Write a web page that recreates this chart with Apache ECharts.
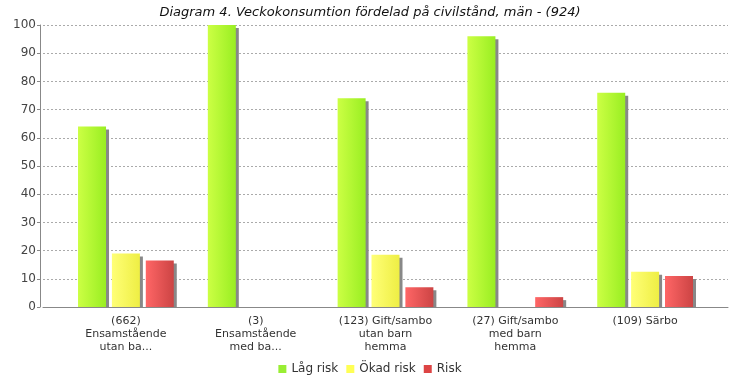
<!DOCTYPE html>
<html><head><meta charset="utf-8">
<script src="https://cdn.jsdelivr.net/npm/echarts@6/dist/echarts.min.js"></script>
<style>html,body{margin:0;padding:0;background:#fff}#c{width:740px;height:380px}</style>
</head><body><div id="c"></div>
<script>
const title = "Diagram 4. Veckokonsumtion fördelad på civilstånd, män - (924)";
const categories = ["(662)\nEnsamstående\nutan ba...", "(3)\nEnsamstående\nmed ba...", "(123) Gift/sambo\nutan barn\nhemma", "(27) Gift/sambo\nmed barn\nhemma", "(109) Särbo"];
const seriesNames = ["Låg risk", "Ökad risk", "Risk"];
const lowRisk = [64, 100, 74, 96, 76];
const increasedRisk = [19, 0, 18.5, 0, 12.5];
const risk = [16.5, 0, 7, 3.5, 11];
const yTicks = [0, 10, 20, 30, 40, 50, 60, 70, 80, 90, 100];

const font = 'DejaVu Sans';
function grad(a, b) {
  return new echarts.graphic.LinearGradient(0, 0, 1, 0, [{offset: 0, color: a}, {offset: 1, color: b}]);
}
const colors = [grad('#ccff44', '#99ee22'), grad('#ffff77', '#eeee44'), grad('#ff6666', '#cc4444')];
const legendColors = ['#99ee33', '#ffff55', '#dd4444'];
const vals = [lowRisk, increasedRisk, risk];

const chart = echarts.init(document.getElementById('c'), null, {renderer: 'canvas'});
chart.setOption({
  animation: false,
  title: {text: title, left: 'center', top: 1, textStyle: {fontFamily: font, fontSize: 13, fontStyle: 'italic', fontWeight: 'normal', color: '#111'}},
  legend: {top: 358, left: 'center', itemWidth: 8, itemHeight: 8, itemGap: 8, icon: 'rect',
    textStyle: {fontFamily: font, fontSize: 12, color: '#333'},
    data: seriesNames.map((n, i) => ({name: n, itemStyle: {color: legendColors[i]}}))},
  grid: [
    {left: 43, right: 12, top: 25, bottom: 73},
    {left: 61, right: 30, top: 25, bottom: 73}
  ],
  xAxis: [
    {gridIndex: 0, type: 'category', data: categories, offset: 4,
      axisLine: {lineStyle: {color: '#888'}}, axisTick: {show: false}, axisLabel: {show: false}},
    {gridIndex: 1, type: 'category', data: categories, offset: 4,
      axisLine: {show: false}, axisTick: {show: true, alignWithLabel: true, length: 3, lineStyle: {color: '#888'}},
      axisLabel: {fontFamily: font, fontSize: 11, color: '#333', lineHeight: 13, margin: 4, interval: 0}}
  ],
  yAxis: [
    {gridIndex: 0, type: 'value', min: yTicks[0], max: yTicks[yTicks.length - 1], interval: 10, offset: 3,
      axisLine: {show: true, lineStyle: {color: '#888'}}, axisTick: {show: true, length: 3, lineStyle: {color: '#888'}},
      axisLabel: {fontFamily: font, fontSize: 12, color: '#444', margin: 4},
      splitLine: {lineStyle: {color: '#aaa', type: [2, 2], width: 1}}},
    {gridIndex: 1, type: 'value', min: 0, max: 100, show: false, splitLine: {show: false}}
  ],
  graphic: [{type: 'rect', z: 100, silent: true, shape: {x: 43, y: 308, width: 685, height: 2.5}, style: {fill: '#fff'}}],
  series: seriesNames.map((n, i) => ({
    name: n, type: 'bar', xAxisIndex: 1, yAxisIndex: 1, data: vals[i],
    barWidth: 28, barGap: '21%',
    itemStyle: {color: colors[i], shadowColor: '#888', shadowOffsetX: 3, shadowOffsetY: 3, shadowBlur: 0}
  }))
});
</script></body></html>
